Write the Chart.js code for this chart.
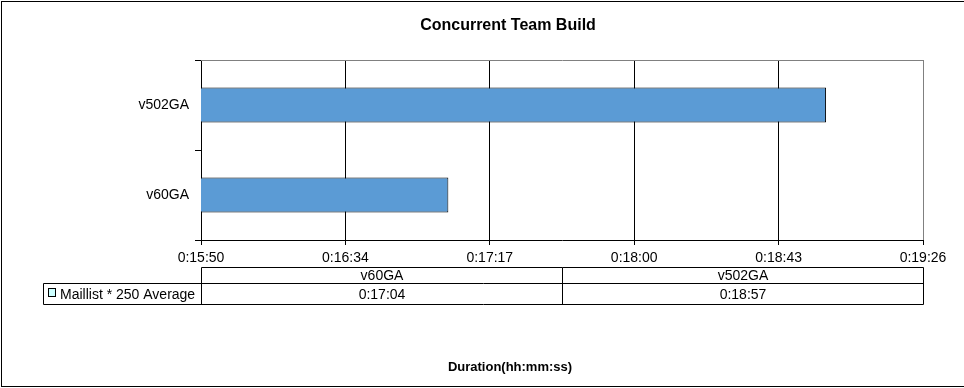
<!DOCTYPE html>
<html>
<head>
<meta charset="utf-8">
<script src="https://cdn.jsdelivr.net/npm/chart.js@4.4.0/dist/chart.umd.min.js"></script>
<style>
  html, body { margin: 0; padding: 0; background: #fff; }
</style>
</head>
<body>
<canvas id="chart" width="964" height="388"></canvas>
<script>
const categories = ["v60GA", "v502GA"];
const durations = [1024, 1137]; // seconds
const seriesName = "Maillist * 250 Average";
const xTicks = [950, 993.2, 1036.4, 1079.6, 1122.8, 1166];
const xTickLabels = ["0:15:50", "0:16:34", "0:17:17", "0:18:00", "0:18:43", "0:19:26"];
const chartTitle = "Concurrent Team Build";
const axisTitle = "Duration(hh:mm:ss)";

const FONT = "Arial, 'Liberation Sans', sans-serif";
Chart.defaults.font.family = FONT;

function fmtTime(s) {
  const h = Math.floor(s / 3600);
  const m = Math.floor((s % 3600) / 60);
  const sec = Math.round(s % 60);
  return h + ":" + String(m).padStart(2, "0") + ":" + String(sec).padStart(2, "0");
}

// title, plot border, data table and outer frame
const decorPlugin = {
  id: "decor",
  afterDraw(chart) {
    const { ctx, chartArea: a } = chart;
    ctx.save();
    ctx.lineWidth = 1;

    // gray top border of the plot area
    ctx.strokeStyle = "#808080";
    ctx.beginPath();
    ctx.moveTo(a.left, a.top + 0.5);
    ctx.lineTo(a.right + 1, a.top + 0.5);
    ctx.stroke();

    // data table
    const L = a.left + 0.5, R = a.right + 0.5, M = Math.round((a.left + a.right) / 2) + 0.5;
    const y0 = 267.5, y1 = 283.5, y2 = 304.5, legL = 43.5;
    ctx.strokeStyle = "#000";
    ctx.beginPath();
    ctx.moveTo(L, y0); ctx.lineTo(R, y0);
    ctx.moveTo(legL, y1); ctx.lineTo(R, y1);
    ctx.moveTo(legL, y2); ctx.lineTo(R, y2);
    ctx.moveTo(legL, y1); ctx.lineTo(legL, y2);
    ctx.moveTo(L, y0); ctx.lineTo(L, y2);
    ctx.moveTo(M, y0); ctx.lineTo(M, y2);
    ctx.moveTo(R, y0); ctx.lineTo(R, y2);
    ctx.stroke();

    ctx.fillStyle = "#000";
    ctx.font = "14px " + FONT;
    ctx.textAlign = "center";
    ctx.textBaseline = "middle";
    const cols = [[L, M], [M, R]];
    categories.forEach((c, i) => {
      const cx = (cols[i][0] + cols[i][1]) / 2;
      ctx.fillText(c, cx, (y0 + y1) / 2 + 1);
      ctx.fillText(fmtTime(durations[i]), cx, (y1 + y2) / 2 + 1);
    });

    // legend key
    ctx.fillStyle = "#ccffff";
    ctx.fillRect(48.5, 288.5, 7, 8);
    ctx.strokeRect(48.5, 288.5, 7, 8);
    ctx.fillStyle = "#000";
    ctx.textAlign = "left";
    ctx.fillText(seriesName, 60, (y1 + y2) / 2 + 1);

    // titles
    ctx.textAlign = "center";
    ctx.font = "bold 16px " + FONT;
    ctx.fillText(chartTitle, 508, 26);
    ctx.font = "bold 13px " + FONT;
    ctx.fillText(axisTitle, 510, 367);

    // outer frame
    ctx.strokeStyle = "#000";
    ctx.strokeRect(1.5, 1.5, 980, 385);
    ctx.restore();
  },
};

new Chart(document.getElementById("chart"), {
  type: "bar",
  data: {
    labels: categories,
    datasets: [
      {
        label: seriesName,
        data: durations,
        backgroundColor: "#5b9bd5",
        borderColor: "#000",
        borderWidth: 1,
        barPercentage: 0.39,
        categoryPercentage: 1,
      },
    ],
  },
  options: {
    indexAxis: "y",
    responsive: false,
    devicePixelRatio: 1,
    animation: false,
    layout: { padding: { top: 60, right: 41, bottom: 0, left: 0 } },
    plugins: {
      legend: { display: false },
      tooltip: { enabled: false },
    },
    scales: {
      x: {
        type: "linear",
        position: "bottom",
        min: 950,
        max: 1166,
        afterBuildTicks: (s) => {
          s.ticks = xTicks.map((v) => ({ value: v }));
        },
        afterFit: (s) => {
          s.height = 148;
        },
        ticks: {
          callback: (v, i) => xTickLabels[i],
          color: "#000",
          font: { size: 14 },
          padding: 5,
          maxRotation: 0,
          autoSkip: false,
        },
        grid: {
          color: (c) => (c.index === xTicks.length - 1 ? "#808080" : "#000"),
          tickColor: "#000",
          tickLength: 5,
        },
        border: { color: "#000" },
      },
      y: {
        type: "category",
        reverse: true,
        afterFit: (s) => {
          s.width = 201;
        },
        ticks: { color: "#000", font: { size: 14 }, padding: 6 },
        grid: { drawOnChartArea: false, color: "#000", tickLength: 6, offset: true },
        border: { color: "#000" },
      },
    },
  },
  plugins: [decorPlugin],
});
</script>
</body>
</html>
